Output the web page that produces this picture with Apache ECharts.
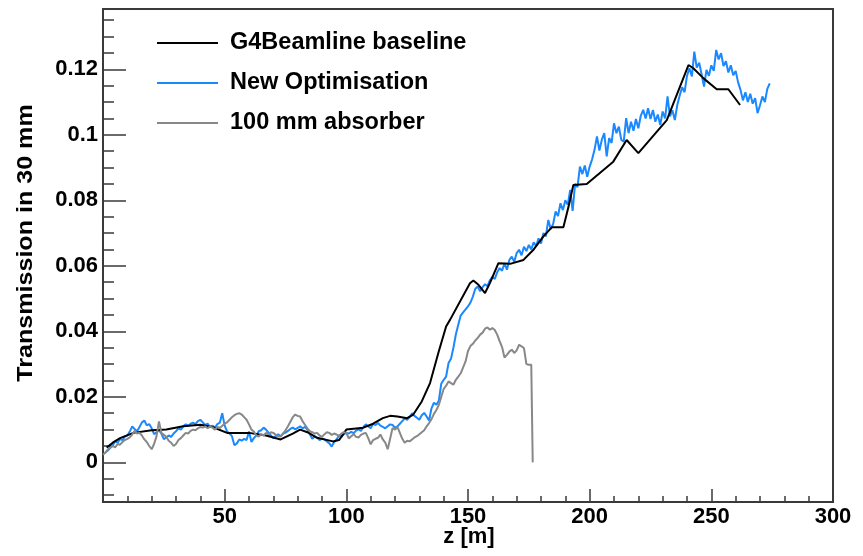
<!DOCTYPE html>
<html>
<head>
<meta charset="utf-8">
<script src="https://cdn.jsdelivr.net/npm/echarts@6/dist/echarts.min.js"></script>
<style>html,body{margin:0;padding:0;background:#fff}#c{width:863px;height:556px}</style>
</head>
<body>
<div id="c"></div>
<script>
// ---- data ----
const seriesNames = ['G4Beamline baseline', 'New Optimisation', '100 mm absorber'];

const blackZ = [1.5, 4, 7, 12.5, 20, 26, 33, 40, 45, 51, 60, 67, 73, 78, 81, 84, 88, 94.5, 97, 100, 107, 111, 115, 118, 121, 125, 127.5, 131, 134.4, 137.8, 141, 142.6, 150.8, 152.2, 154.3, 157, 159, 162.5, 167.3, 172.8, 177, 181, 184.5, 189.2, 191.3, 193.3, 198.8, 209.7, 215.2, 220, 231.7, 240.6, 242.6, 246.7, 252.2, 257, 261.8];
const blackV = [0.0045, 0.006, 0.0074, 0.009, 0.0098, 0.010, 0.011, 0.0115, 0.0108, 0.009, 0.009, 0.0082, 0.007, 0.0088, 0.010, 0.0092, 0.0075, 0.0064, 0.0068, 0.010, 0.0106, 0.0118, 0.0135, 0.0142, 0.014, 0.0135, 0.0146, 0.0186, 0.0242, 0.0334, 0.0415, 0.0435, 0.0547, 0.0555, 0.0542, 0.0517, 0.0547, 0.0608, 0.0606, 0.0618, 0.065, 0.069, 0.0718, 0.0718, 0.078, 0.0847, 0.085, 0.0918, 0.0984, 0.0944, 0.1045, 0.1213, 0.1203, 0.1173, 0.1139, 0.1139, 0.1091];

const blueStart = 1, blueStep = 1;
const blueValues = [
0.0030,0.0036,0.0045,0.0052,0.0064,0.0060,0.0071,0.0068,0.0079,0.0082,
0.0094,0.0110,0.0102,0.0095,0.0108,0.0122,0.0128,0.0113,0.0117,0.0104,
0.0086,0.0092,0.0098,0.0088,0.0071,0.0076,0.0082,0.0078,0.0088,0.0095,
0.0104,0.0100,0.0110,0.0116,0.0112,0.0118,0.0121,0.0117,0.0126,0.0130,
0.0122,0.0114,0.0118,0.0108,0.0112,0.0106,0.0117,0.0121,0.0150,0.0112,
0.0094,0.0088,0.0080,0.0052,0.0058,0.0070,0.0066,0.0072,0.0068,0.0094,
0.0062,0.0074,0.0082,0.0095,0.0098,0.0106,0.0100,0.0091,0.0082,0.0074,
0.0080,0.0086,0.0079,0.0088,0.0091,0.0096,0.0102,0.0106,0.0101,0.0105,
0.0110,0.0104,0.0108,0.0100,0.0086,0.0072,0.0079,0.0075,0.0068,0.0073,
0.0070,0.0064,0.0058,0.0048,0.0062,0.0070,0.0083,0.0078,0.0086,0.0090,
0.0088,0.0093,0.0089,0.0097,0.0101,0.0096,0.0108,0.0116,0.0110,0.0104,
0.0118,0.0114,0.0120,0.0112,0.0108,0.0104,0.0110,0.0116,0.0114,0.0106,
0.0110,0.0118,0.0126,0.0134,0.0130,0.0138,0.0150,0.0142,0.0136,0.0130,
0.0144,0.0151,0.0140,0.0128,0.0165,0.0182,0.0176,0.0188,0.0240,0.0252,
0.0262,0.0303,0.0316,0.0350,0.0390,0.0420,0.0448,0.0458,0.0467,0.0476,
0.0488,0.0506,0.0530,0.0537,0.0522,0.0535,0.0544,0.0538,0.0556,0.0566,
0.0560,0.0580,0.0593,0.0585,0.0608,0.0588,0.0618,0.0628,0.0612,0.0639,
0.0649,0.0632,0.0658,0.0645,0.0664,0.0650,0.0672,0.0660,0.0684,0.0668,
0.0700,0.0690,0.0740,0.0712,0.0728,0.0766,0.0752,0.0791,0.0770,0.0800,
0.0786,0.0832,0.0768,0.0850,0.0840,0.0903,0.0880,0.0906,0.0872,0.0903,
0.0925,0.0954,0.0995,0.0952,0.0985,0.1005,0.0934,0.0990,0.0975,0.1035,
0.1005,0.1025,0.0985,0.0979,0.1051,0.1005,0.1040,0.1012,0.1048,0.1020,
0.1058,0.1076,0.1050,0.1081,0.1048,0.1076,0.1040,0.1062,0.1030,0.1071,
0.1050,0.1117,0.1056,0.1075,0.1045,0.1091,0.1120,0.1145,0.1130,0.1180,
0.1203,0.1178,0.1254,0.1205,0.1220,0.1185,0.1147,0.1198,0.1180,0.1212,
0.1195,0.1259,0.1230,0.1249,0.1210,0.1225,0.1190,0.1212,0.1182,0.1195,
0.1160,0.1137,0.1105,0.1130,0.1100,0.1125,0.1095,0.1112,0.1066,0.1090,
0.1117,0.1100,0.1140,0.1157
];

const grayStart = 0, grayStep = 1;
const grayValues = [
0.0023,0.0030,0.0040,0.0044,0.0050,0.0046,0.0056,0.0054,0.0062,0.0068,
0.0072,0.0076,0.0085,0.0096,0.0088,0.0090,0.0082,0.0070,0.0062,0.0050,
0.0040,0.0056,0.0080,0.0125,0.0090,0.0084,0.0078,0.0066,0.0060,0.0050,
0.0056,0.0068,0.0074,0.0082,0.0090,0.0088,0.0096,0.0100,0.0098,0.0104,
0.0108,0.0106,0.0110,0.0104,0.0110,0.0106,0.0100,0.0108,0.0105,0.0112,
0.0118,0.0122,0.0130,0.0138,0.0144,0.0148,0.0150,0.0146,0.0138,0.0130,
0.0116,0.0100,0.0094,0.0082,0.0079,0.0086,0.0082,0.0090,0.0086,0.0092,
0.0090,0.0084,0.0080,0.0079,0.0088,0.0098,0.0110,0.0124,0.0138,0.0146,
0.0142,0.0140,0.0126,0.0115,0.0104,0.0095,0.0092,0.0088,0.0090,0.0082,
0.0078,0.0086,0.0092,0.0090,0.0084,0.0088,0.0085,0.0080,0.0088,0.0092,
0.0090,0.0073,0.0080,0.0086,0.0078,0.0076,0.0084,0.0088,0.0090,0.0074,
0.0055,0.0068,0.0072,0.0075,0.0085,0.0070,0.0060,0.0040,0.0072,0.0105,
0.0100,0.0108,0.0090,0.0072,0.0060,0.0066,0.0064,0.0070,0.0076,0.0080,
0.0086,0.0092,0.0098,0.0110,0.0120,0.0132,0.0148,0.0160,0.0175,0.0200,
0.0224,0.0234,0.0247,0.0242,0.0237,0.0252,0.0262,0.0272,0.0290,0.0308,
0.0340,0.0355,0.0362,0.0372,0.0380,0.0390,0.0396,0.0408,0.0412,0.0405,
0.0410,0.0404,0.0390,0.0370,0.0352,0.0320,0.0328,0.0338,0.0344,0.0334,
0.0342,0.0359,0.0354,0.0349,0.0300,0.0298,0.0298
];
const grayDropZ = [176.6, 176.6];
const grayDropV = [0.0298, 0.0];

const xTicks = { min: 0, max: 300, interval: 50 };
const yMin = -0.0121, yMax = 0.1384;
const yMajorTicks = [0, 0.02, 0.04, 0.06, 0.08, 0.1, 0.12];
const yMinorTicks = [-0.01, -0.005, 0.005, 0.01, 0.015, 0.025, 0.03, 0.035, 0.045, 0.05, 0.055, 0.065, 0.07, 0.075, 0.085, 0.09, 0.095, 0.105, 0.11, 0.115, 0.125, 0.13, 0.135];

const xTitle = 'z [m]';
const yTitle = 'Transmission in 30 mm';

// ---- build ----
const FONT = '"Liberation Sans", Arial, sans-serif';
const colors = ['#000000', '#1a88ff', '#888888'];
const blackData = blackZ.map((z, i) => [z, blackV[i]]);
const blueData = blueValues.map((v, i) => [blueStart + i * blueStep, v]);
const grayData = grayValues.map((v, i) => [grayStart + i * grayStep, v])
  .concat(grayDropZ.map((z, i) => [z, grayDropV[i]]));

const chart = echarts.init(document.getElementById('c'), null, { renderer: 'canvas' });
const axisCol = '#3a3a3a';
chart.setOption({
  animation: false,
  backgroundColor: '#fff',
  grid: { left: 103, right: 30, top: 9, bottom: 54, show: true, borderColor: axisCol, borderWidth: 2, backgroundColor: 'transparent' },
  legend: {
    orient: 'vertical', left: 157, top: 31, padding: 0, itemWidth: 61, itemHeight: 2, itemGap: 16,
    selectedMode: false,
    data: seriesNames.map(n => ({ name: n, icon: 'rect' })),
    textStyle: { fontFamily: FONT, fontWeight: 'bold', fontSize: 23.5, color: '#000', lineHeight: 23, padding: [0, 0, 0, 7] }
  },
  xAxis: {
    type: 'value', min: xTicks.min, max: xTicks.max, interval: xTicks.interval,
    axisLine: { show: true, onZero: false, lineStyle: { color: axisCol, width: 2 } },
    axisTick: { show: true, inside: true, length: 13, lineStyle: { color: axisCol, width: 1.5 } },
    minorTick: { show: true, splitNumber: 5, length: 6, lineStyle: { color: axisCol, width: 1.5 } },
    splitLine: { show: false },
    axisLabel: { showMinLabel: false, margin: 4, fontFamily: FONT, fontWeight: 'bold', fontSize: 22, color: '#000' }
  },
  yAxis: [
    {
      type: 'value', min: yMin, max: yMax,
      axisLine: { show: true, onZero: false, lineStyle: { color: axisCol, width: 2 } },
      axisTick: { show: true, inside: true, length: 23, customValues: yMajorTicks, lineStyle: { color: axisCol, width: 1.5 } },
      splitLine: { show: false },
      axisLabel: { customValues: yMajorTicks, margin: 5, fontFamily: FONT, fontWeight: 'bold', fontSize: 22, color: '#000',
        formatter: v => String(Math.round(v * 1000) / 1000) }
    },
    {
      type: 'value', min: yMin, max: yMax, position: 'left',
      axisLine: { show: false },
      axisTick: { show: true, inside: true, length: 11, customValues: yMinorTicks, lineStyle: { color: axisCol, width: 1.5 } },
      splitLine: { show: false },
      axisLabel: { show: false }
    }
  ],
  graphic: [
    { type: 'text', x: 469, y: 537, style: { text: xTitle, font: 'bold 22px ' + FONT, fill: '#000', align: 'center', verticalAlign: 'middle' } },
    { type: 'text', x: 26, y: 243, rotation: Math.PI / 2, scaleX: 1.14, style: { text: yTitle, font: 'bold 22px ' + FONT, fill: '#000', align: 'center', verticalAlign: 'middle' } }
  ],
  series: [
    { name: seriesNames[0], type: 'line', data: blackData, showSymbol: false, symbol: 'none', lineStyle: { color: colors[0], width: 2 }, itemStyle: { color: colors[0] }, z: 3 },
    { name: seriesNames[1], type: 'line', data: blueData, showSymbol: false, symbol: 'none', lineStyle: { color: colors[1], width: 2 }, itemStyle: { color: colors[1] }, z: 2 },
    { name: seriesNames[2], type: 'line', data: grayData, showSymbol: false, symbol: 'none', lineStyle: { color: colors[2], width: 2 }, itemStyle: { color: colors[2] }, z: 4 }
  ]
});
</script>
</body>
</html>
